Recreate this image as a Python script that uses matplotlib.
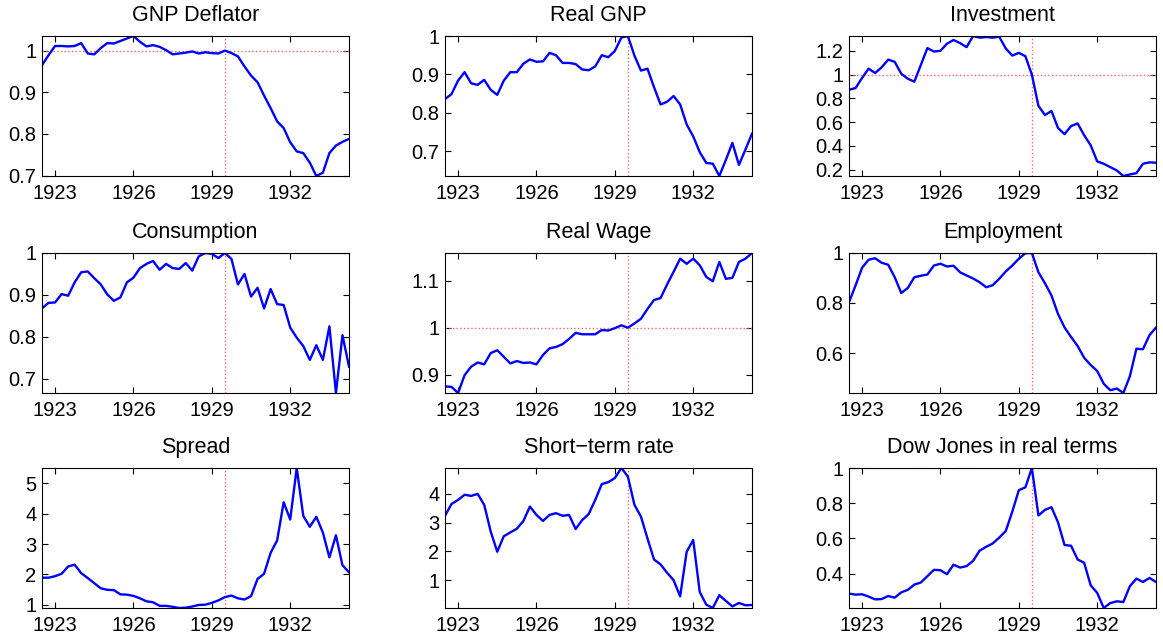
import numpy as np
import matplotlib
matplotlib.use('Agg')
import matplotlib.pyplot as plt
from matplotlib.ticker import FormatStrFormatter

plt.rcParams['font.family'] = ['Liberation Sans', 'DejaVu Sans']

# quarterly data, 1922Q3 - 1934Q2, normalised to 1929Q3 where it makes sense
t = 1922.5 + 0.25 * np.arange(48)
crash = 1929.5

gnp_deflator = [0.965, 0.989, 1.011, 1.011, 1.010, 1.011, 1.018, 0.993, 0.991, 1.006,
                1.018, 1.017, 1.023, 1.029, 1.035, 1.021, 1.010, 1.013, 1.009, 1.001,
                0.991, 0.993, 0.995, 0.998, 0.993, 0.996, 0.994, 0.993, 1.000, 0.994,
                0.986, 0.962, 0.940, 0.924, 0.892, 0.862, 0.830, 0.814, 0.780, 0.758,
                0.754, 0.731, 0.699, 0.707, 0.754, 0.772, 0.781, 0.788]
real_gnp = [0.836, 0.849, 0.884, 0.906, 0.877, 0.873, 0.886, 0.860, 0.847, 0.884,
            0.906, 0.906, 0.928, 0.939, 0.933, 0.934, 0.956, 0.950, 0.930, 0.930,
            0.927, 0.913, 0.911, 0.921, 0.950, 0.945, 0.961, 0.996, 1.000, 0.949,
            0.910, 0.915, 0.867, 0.822, 0.829, 0.844, 0.822, 0.770, 0.739, 0.698,
            0.670, 0.668, 0.636, 0.678, 0.722, 0.665, 0.705, 0.746]
investment = [0.873, 0.887, 0.972, 1.051, 1.014, 1.062, 1.127, 1.108, 1.008, 0.966,
              0.941, 1.082, 1.224, 1.195, 1.201, 1.261, 1.292, 1.266, 1.232, 1.326,
              1.312, 1.317, 1.312, 1.320, 1.221, 1.161, 1.184, 1.156, 1.000, 0.737,
              0.660, 0.694, 0.550, 0.499, 0.567, 0.589, 0.490, 0.405, 0.269, 0.249,
              0.221, 0.193, 0.146, 0.159, 0.170, 0.249, 0.261, 0.258]
consumption = [0.868, 0.881, 0.882, 0.902, 0.898, 0.930, 0.954, 0.956, 0.940, 0.925,
               0.901, 0.886, 0.894, 0.930, 0.941, 0.964, 0.974, 0.981, 0.960, 0.974,
               0.964, 0.962, 0.976, 0.958, 0.992, 1.000, 0.998, 0.988, 1.000, 0.986,
               0.925, 0.950, 0.896, 0.917, 0.868, 0.914, 0.878, 0.876, 0.822, 0.798,
               0.778, 0.745, 0.780, 0.745, 0.825, 0.666, 0.804, 0.729]
real_wage = [0.875, 0.874, 0.861, 0.899, 0.917, 0.926, 0.922, 0.946, 0.952, 0.938,
             0.924, 0.929, 0.925, 0.926, 0.922, 0.942, 0.956, 0.959, 0.965, 0.976,
             0.989, 0.986, 0.986, 0.986, 0.995, 0.994, 0.999, 1.005, 1.000, 1.009,
             1.019, 1.040, 1.059, 1.063, 1.092, 1.119, 1.147, 1.136, 1.147, 1.133,
             1.108, 1.099, 1.140, 1.104, 1.106, 1.140, 1.147, 1.159]
employment = [0.803, 0.870, 0.941, 0.973, 0.979, 0.961, 0.953, 0.903, 0.840, 0.860,
              0.903, 0.909, 0.914, 0.950, 0.957, 0.946, 0.949, 0.923, 0.910, 0.898,
              0.883, 0.863, 0.871, 0.897, 0.926, 0.950, 0.977, 0.999, 1.000, 0.923,
              0.879, 0.830, 0.756, 0.702, 0.664, 0.628, 0.581, 0.552, 0.528, 0.477,
              0.451, 0.458, 0.440, 0.507, 0.617, 0.615, 0.671, 0.702]
spread = [1.89, 1.89, 1.94, 2.02, 2.26, 2.32, 2.04, 1.88, 1.71, 1.54,
          1.49, 1.48, 1.34, 1.33, 1.29, 1.21, 1.11, 1.08, 0.96, 0.96,
          0.93, 0.89, 0.90, 0.94, 0.99, 1.00, 1.06, 1.14, 1.25, 1.30,
          1.21, 1.17, 1.28, 1.85, 2.02, 2.71, 3.12, 4.38, 3.81, 5.51,
          3.93, 3.57, 3.90, 3.38, 2.56, 3.29, 2.30, 2.07]
short_rate = [3.24, 3.65, 3.79, 3.97, 3.93, 4.00, 3.62, 2.69, 1.99, 2.53,
              2.66, 2.79, 3.06, 3.56, 3.27, 3.06, 3.27, 3.33, 3.24, 3.27,
              2.78, 3.09, 3.30, 3.79, 4.34, 4.41, 4.55, 4.90, 4.60, 3.62,
              3.21, 2.45, 1.72, 1.55, 1.26, 1.00, 0.44, 1.99, 2.40, 0.59,
              0.15, 0.035, 0.48, 0.28, 0.09, 0.21, 0.13, 0.14]
dow_real = [0.286, 0.280, 0.282, 0.269, 0.253, 0.255, 0.272, 0.263, 0.293, 0.307,
            0.337, 0.349, 0.385, 0.421, 0.419, 0.396, 0.450, 0.434, 0.442, 0.472,
            0.530, 0.552, 0.571, 0.604, 0.642, 0.752, 0.874, 0.890, 1.000, 0.730,
            0.762, 0.777, 0.691, 0.562, 0.558, 0.480, 0.461, 0.333, 0.290, 0.204,
            0.232, 0.242, 0.238, 0.328, 0.371, 0.352, 0.375, 0.352]

titles = ['GNP Deflator', 'Real GNP', 'Investment',
          'Consumption', 'Real Wage', 'Employment',
          'Spread', 'Short\u2212term rate', 'Dow Jones in real terms']
series = [gnp_deflator, real_gnp, investment,
          consumption, real_wage, employment,
          spread, short_rate, dow_real]
normalised = [True, True, True, True, True, True, False, False, True]
yticks = [[0.7, 0.8, 0.9, 1], [0.7, 0.8, 0.9, 1], [0.2, 0.4, 0.6, 0.8, 1, 1.2],
          [0.7, 0.8, 0.9, 1], [0.9, 1, 1.1], [0.6, 0.8, 1],
          [1, 2, 3, 4, 5], [1, 2, 3, 4], [0.4, 0.6, 0.8, 1]]
xticks = [1923, 1926, 1929, 1932]

fig = plt.figure(figsize=(11.63, 6.41), dpi=100)
lefts = [42, 445, 849]
tops = [36, 253, 468]
W, H = 1163.0, 641.0

for k in range(9):
    r, c = divmod(k, 3)
    ax = fig.add_axes([lefts[c] / W, 1 - (tops[r] + 140) / H, 307 / W, 140 / H])
    y = np.array(series[k])
    if normalised[k]:
        ax.axhline(1, color='#ff6666', ls=':', lw=1.0)
    ax.axvline(crash, color='#ff6666', ls=':', lw=1.0)
    ax.plot(t, y, color='#0000ff', lw=1.7)
    ax.set_xlim(t[0], t[-1])
    ax.set_ylim(y.min(), y.max())
    ax.set_xticks(xticks)
    ax.set_yticks(yticks[k])
    ax.yaxis.set_major_formatter(FormatStrFormatter('%g'))
    ax.tick_params(direction='in', top=True, right=True, length=4, width=0.8,
                   labelsize=14.5, pad=4)
    ax.tick_params(axis='x', pad=6)
    for s in ax.spines.values():
        s.set_linewidth(0.8)
    ax.set_title(titles[k], fontsize=15.5, pad=11)

fig.savefig('out.png', dpi=100)
